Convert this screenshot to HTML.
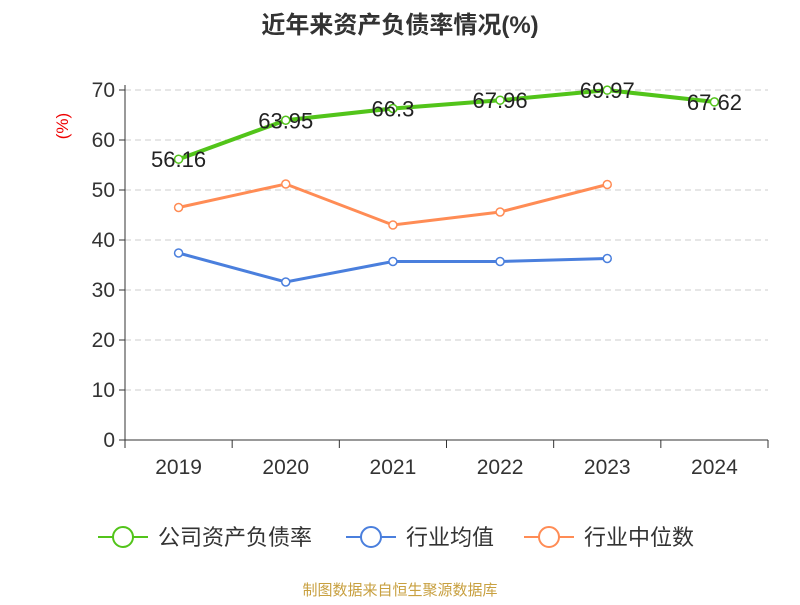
<!DOCTYPE html>
<html><head><meta charset="utf-8"><style>
body{margin:0;background:#fff;}
svg text{font-family:"Liberation Sans","Noto Sans CJK SC",sans-serif;}
</style></head><body>
<svg id="chart" width="800" height="600" xmlns="http://www.w3.org/2000/svg">
<text x="400" y="33" text-anchor="middle" font-size="24" font-weight="bold" fill="#333">近年来资产负债率情况(%)</text>
<text x="68" y="126" font-size="17" fill="#e00" text-anchor="middle" transform="rotate(-90 68 126)">(%)</text>
<g id="grid"></g><g id="axes"></g><g id="series"></g>
<g>
<g><line x1="98" y1="537" x2="148" y2="537" stroke="#52c41a" stroke-width="2"/><circle cx="123" cy="537" r="10" fill="#fff" stroke="#52c41a" stroke-width="2"/><text x="158" y="545" font-size="22" fill="#333">公司资产负债率</text></g>
<g><line x1="346" y1="537" x2="396" y2="537" stroke="#4a7fdd" stroke-width="2"/><circle cx="371" cy="537" r="10" fill="#fff" stroke="#4a7fdd" stroke-width="2"/><text x="406" y="545" font-size="22" fill="#333">行业均值</text></g>
<g><line x1="524" y1="537" x2="574" y2="537" stroke="#ff8c55" stroke-width="2"/><circle cx="549" cy="537" r="10" fill="#fff" stroke="#ff8c55" stroke-width="2"/><text x="584" y="545" font-size="22" fill="#333">行业中位数</text></g>
</g>
<text x="400" y="595" text-anchor="middle" font-size="15" fill="#c8a040">制图数据来自恒生聚源数据库</text>
</svg>
<script>
const categories=["2019","2020","2021","2022","2023","2024"];
const companyValues=[56.16,63.95,66.3,67.96,69.97,67.62];
const avgValues=[37.4,31.6,35.7,35.7,36.3,null];
const medianValues=[46.5,51.2,43.0,45.6,51.1,null];
const yTicks=[0,10,20,30,40,50,60,70];
const NS="http://www.w3.org/2000/svg";
const x0=125,x1=768,yBase=440,yTop=90;
function xPos(i){return x0+(x1-x0)/categories.length*(i+0.5);}
function yPos(v){return yBase-(yBase-yTop)*v/70;}
function mk(t,a,p){const e=document.createElementNS(NS,t);for(const k in a)e.setAttribute(k,a[k]);p.appendChild(e);return e;}
const grid=document.getElementById('grid'),axes=document.getElementById('axes'),series=document.getElementById('series');
yTicks.forEach(v=>{const y=yPos(v);
 if(v>0){const g=mk('line',{x1:x0,x2:x1,y1:y,y2:y,stroke:'#ccc','stroke-dasharray':'6,4'},grid);
 
 }
 const tk=mk('line',{x1:x0-6,x2:x0,y1:y,y2:y,stroke:'#333'},axes);
 
 
 const t=mk('text',{x:x0-10,y:y+7,'text-anchor':'end','font-size':21,fill:'#333'},axes);t.textContent=v;
 
 });
const ya=mk('line',{x1:x0,x2:x0,y1:yTop-5,y2:yBase,stroke:'#333'},axes);


const xa=mk('line',{x1:x0,x2:x1,y1:yBase,y2:yBase,stroke:'#333'},axes);


for(let i=0;i<=categories.length;i++){const x=x0+(x1-x0)/categories.length*i;
 const tk=mk('line',{x1:x,x2:x,y1:yBase,y2:yBase+8,stroke:'#333'},axes);
 
 }
categories.forEach((c,i)=>{const t=mk('text',{x:xPos(i),y:474,'text-anchor':'middle','font-size':21,fill:'#333'},axes);t.textContent=c;
 
 });
function draw(vals,color,w,name,labels){
 let d='';vals.forEach((v,i)=>{if(v==null)return;d+=(d?'L':'M')+xPos(i)+','+yPos(v);});
 const p=mk('path',{d:d,fill:'none',stroke:color,'stroke-width':w},series);
 
 
 vals.forEach((v,i)=>{if(v==null)return;
  const c=mk('circle',{cx:xPos(i),cy:yPos(v),r:4,fill:'#fff',stroke:color,'stroke-width':1.5},series);
  
  
  if(labels){const t=mk('text',{x:xPos(i),y:yPos(v)+8,'text-anchor':'middle','font-size':22,fill:'#222'},series);t.textContent=v;
   
   }});
}
draw(avgValues,'#4a7fdd',3,'industry-average',false);
draw(medianValues,'#ff8c55',3,'industry-median',false);
draw(companyValues,'#52c41a',4,'company',true);
</script>
</body></html>
